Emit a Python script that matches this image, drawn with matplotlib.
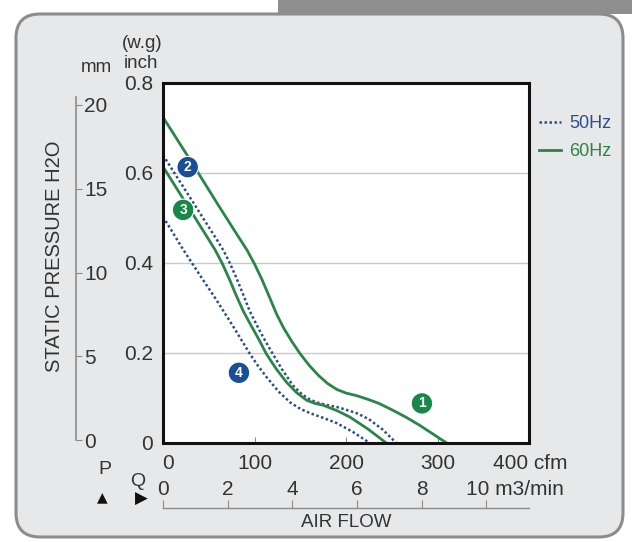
import matplotlib
matplotlib.use("Agg")
import matplotlib.pyplot as plt
from matplotlib.patches import FancyBboxPatch, Rectangle
from matplotlib.transforms import ScaledTranslation

plt.rcParams["font.family"] = ["Liberation Sans", "DejaVu Sans"]

# fan curves: air flow (cfm) against static pressure (inch w.g)
flow_1 = [0, 30, 60, 80, 92, 100, 108, 116, 124, 132, 141, 150, 160, 170, 180, 190, 200,
          212, 224, 236, 250, 265, 280, 295, 310]
pres_1 = [0.724, 0.628, 0.53, 0.466, 0.428, 0.398, 0.364, 0.326, 0.287, 0.255, 0.225, 0.198,
          0.172, 0.150, 0.132, 0.119, 0.111, 0.105, 0.097, 0.088, 0.074, 0.058, 0.040, 0.020, 0.0]

flow_2 = [0, 40, 60, 66, 73, 80, 88, 95, 104, 112, 120, 130, 142, 152, 161, 170, 180, 190,
          200, 212, 225, 240, 255]
pres_2 = [0.640, 0.512, 0.448, 0.428, 0.400, 0.368, 0.328, 0.292, 0.256, 0.226, 0.198, 0.164,
          0.128, 0.108, 0.096, 0.089, 0.084, 0.080, 0.074, 0.066, 0.053, 0.030, 0.0]

flow_3 = [0, 30, 50, 57, 65, 73, 80, 88, 96, 104, 113, 124, 135, 146, 157, 166, 175, 190,
          204, 224, 244]
pres_3 = [0.614, 0.517, 0.452, 0.429, 0.398, 0.362, 0.328, 0.292, 0.262, 0.233, 0.198, 0.164,
          0.135, 0.112, 0.095, 0.088, 0.084, 0.072, 0.058, 0.031, 0.0]

flow_4 = [0, 22, 40, 59, 77, 95, 104, 113, 126, 139, 150, 161, 175, 190, 208, 226]
pres_4 = [0.503, 0.430, 0.374, 0.316, 0.258, 0.198, 0.171, 0.147, 0.115, 0.090, 0.076, 0.066,
          0.056, 0.044, 0.024, 0.0]

badge_text = ["1", "2", "3", "4"]
badge_flow = [283, 27, 22, 83]
badge_pres = [0.088, 0.613, 0.518, 0.156]

pres_ticks = [0, 0.2, 0.4, 0.6, 0.8]
pres_labels = ["0", "0.2", "0.4", "0.6", "0.8"]
mm_ticks = [0, 5, 10, 15, 20]
cfm_ticks = [0, 100, 200, 300, 400]
cfm_labels = ["0", "100", "200", "300", "400 cfm"]
m3_ticks = [0, 2, 4, 6, 8, 10]
m3_labels = ["0", "2", "4", "6", "8", "10 m3/min"]
CFM_PER_M3MIN = 35.3147

GREEN = "#2a8548"
BLUE = "#2a4f8c"
BADGE_GREEN = "#17874a"
BADGE_BLUE = "#1a4e96"
TEXT = "#333333"
AXIS_GRAY = "#8c8c8c"
TICK_SIZE = 15

W, H = 632, 542
fig = plt.figure(figsize=(W / 100, H / 100), dpi=100, facecolor="white")


def shift(label, dx_px):
    label.set_transform(label.get_transform() + ScaledTranslation(dx_px / 100, 0, fig.dpi_scale_trans))


# background panel, in pixel units
bg = fig.add_axes([0, 0, 1, 1], zorder=-5)
bg.set_xlim(0, W)
bg.set_ylim(H, 0)
bg.axis("off")
bg.add_patch(FancyBboxPatch((16, 14), 607, 523, boxstyle="round,pad=0,rounding_size=24",
                            facecolor="#e7e8e9", edgecolor=AXIS_GRAY, linewidth=2.2))
bg.add_patch(Rectangle((278, 0), W - 278, 14, facecolor="#8e8e8e", edgecolor="none"))

bg.text(142, 43, "(w.g)", ha="center", va="center", fontsize=13.5, color=TEXT)
bg.text(141, 64, "inch", ha="center", va="center", fontsize=13.5, color=TEXT)
bg.text(96, 67, "mm", ha="center", va="center", fontsize=13.5, color=TEXT)
bg.text(55, 256, "STATIC PRESSURE H2O", ha="center", va="center", rotation=90, fontsize=14.5, color=TEXT)
bg.text(105, 469, "P", ha="center", va="center", fontsize=14, color=TEXT)
bg.text(102, 497, "\u25b2", ha="center", va="center", fontsize=10, color="#111111",
        family=["DejaVu Sans"])
bg.text(138, 481, "Q", ha="center", va="center", fontsize=14, color=TEXT)
bg.text(141, 499, "\u25b6", ha="center", va="center", fontsize=12, color="#111111",
        family=["DejaVu Sans"])

# main chart box
left, right, top, bottom = 163, 529, 83, 443
ax = fig.add_axes([left / W, 1 - bottom / H, (right - left) / W, (bottom - top) / H])
ax.set_facecolor("white")
ax.set_xlim(0, 400)
ax.set_ylim(0, 0.8)
for s in ax.spines.values():
    s.set_linewidth(2.2)
    s.set_color("#111111")
ax.grid(axis="y", color="#c9c9c9", linewidth=1)
ax.set_axisbelow(True)

ax.set_yticks(pres_ticks, labels=pres_labels)
ax.tick_params(axis="y", length=0, pad=7, labelsize=TICK_SIZE, labelcolor=TEXT)
ax.set_xticks(cfm_ticks, labels=cfm_labels)
ax.tick_params(axis="x", direction="in", length=4, color=AXIS_GRAY, pad=8, labelsize=TICK_SIZE, labelcolor=TEXT)

line_1, = ax.plot(flow_1, pres_1, color=GREEN, lw=2)
line_2, = ax.plot(flow_2, pres_2, color=BLUE, lw=1.8, ls=(0, (1, 1)))
line_3, = ax.plot(flow_3, pres_3, color=GREEN, lw=2)
line_4, = ax.plot(flow_4, pres_4, color=BLUE, lw=1.8, ls=(0, (1, 1)))

badge_colors = [BADGE_GREEN, BADGE_BLUE, BADGE_GREEN, BADGE_BLUE]
ax.scatter(badge_flow, badge_pres, s=240, c=badge_colors, edgecolors="white", linewidths=0.8, zorder=5)
for t, x, y in zip(badge_text, badge_flow, badge_pres):
    ax.text(x, y, t, ha="center", va="center", color="white", fontsize=10, fontweight="bold", zorder=6)

leg = ax.legend(handles=[line_2, line_1], labels=["50Hz", "60Hz"], loc="center left",
                bbox_to_anchor=(1.027, 0.848), frameon=False, fontsize=13, handlelength=1.2,
                handletextpad=0.5, labelspacing=0.6, borderaxespad=0, borderpad=0)
for txt, col in zip(leg.get_texts(), [BLUE, GREEN]):
    txt.set_color(col)

xlabels = ax.get_xticklabels()
shift(xlabels[0], 5)
xlabels[-1].set_horizontalalignment("left")
shift(xlabels[-1], -36)

# second flow scale in m3/min
sec = ax.secondary_xaxis(-(508 - bottom) / (bottom - top),
                         functions=(lambda q: q / CFM_PER_M3MIN, lambda m: m * CFM_PER_M3MIN))
sec.set_alignment("top")
sec.spines["top"].set_color(AXIS_GRAY)
sec.spines["top"].set_linewidth(1)
sec.set_xticks(m3_ticks, labels=m3_labels)
sec.tick_params(axis="x", direction="out", length=6, color=AXIS_GRAY, pad=0.5, labelsize=TICK_SIZE,
                labelcolor=TEXT)
sec.set_xlabel("AIR FLOW", fontsize=13.5, color=TEXT, labelpad=4)
sec.xaxis.set_label_position("bottom")
slabels = sec.get_xticklabels()
slabels[-1].set_horizontalalignment("left")
shift(slabels[-1], -20)

# pressure scale in mm H2O
mm_ax = fig.add_axes([60 / W, 1 - bottom / H, 16 / W, (bottom - top) / H])
mm_ax.patch.set_visible(False)
mm_ax.set_ylim((440 - bottom) / 16.75, (440 - top) / 16.75)
for name in ["left", "top", "bottom"]:
    mm_ax.spines[name].set_visible(False)
mm_ax.spines["right"].set_color(AXIS_GRAY)
mm_ax.spines["right"].set_linewidth(1.2)
mm_ax.spines["right"].set_bounds(0, 20.5)
mm_ax.set_xticks([])
mm_ax.yaxis.tick_right()
mm_ax.set_yticks(mm_ticks)
mm_ax.tick_params(axis="y", direction="out", length=4, color=AXIS_GRAY, pad=2, labelsize=TICK_SIZE,
                  labelcolor=TEXT)

fig.savefig("out.png", dpi=100)
